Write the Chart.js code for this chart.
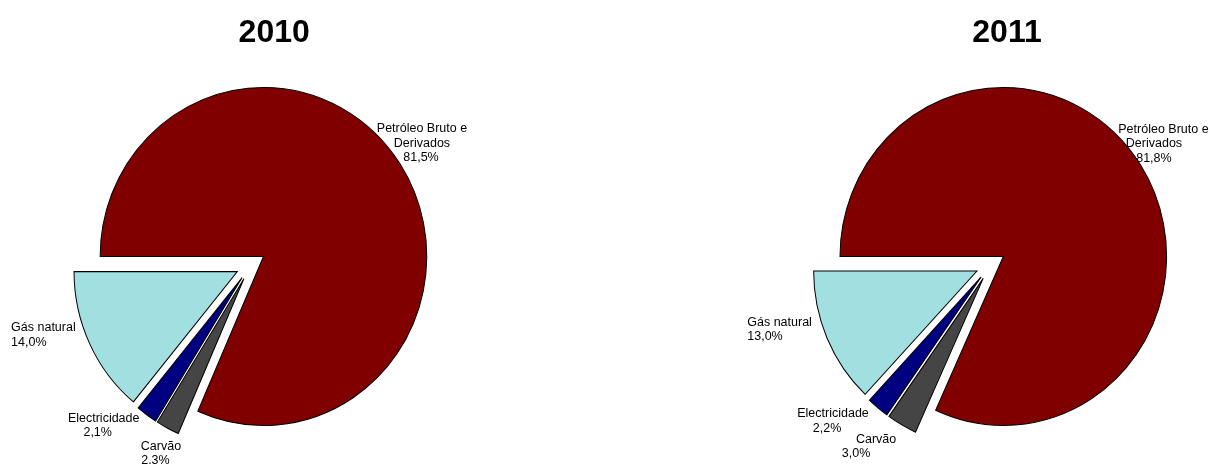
<!DOCTYPE html>
<html lang="pt">
<head>
<meta charset="utf-8">
<title>Consumo de energia final por fonte, 2010 e 2011</title>
<script src="https://cdn.jsdelivr.net/npm/chart.js@4.4.1/dist/chart.umd.min.js"></script>
<style>
  html, body { margin: 0; padding: 0; background: #ffffff; }
  #wrap { position: relative; width: 1210px; height: 464px; overflow: hidden; }
  .pie { position: absolute; top: 0; width: 605px; height: 464px; }
  .pie canvas { display: block; }
</style>
</head>
<body>
<div id="wrap">
  <div class="pie" style="left:0"><canvas id="c2010" width="605" height="464"></canvas></div>
  <div class="pie" style="left:605px"><canvas id="c2011" width="605" height="464"></canvas></div>
</div>
<script>
// ---- data ----
const categories = ['Petróleo Bruto e Derivados', 'Carvão', 'Electricidade', 'Gás natural'];
const labelLines = [['Petróleo Bruto e', 'Derivados'], ['Carvão'], ['Electricidade'], ['Gás natural']];
const years = ['2010', '2011'];
const shares2010 = [81.5, 2.3, 2.1, 14.0];
const shares2011 = [81.8, 3.0, 2.2, 13.0];

// ---- style ----
const sliceColors = ['#800000', '#454545', '#000080', '#A1DFE0'];
const PIE_RADIUS = 163.3;   // horizontal radius in px
const STRETCH_Y = 1.035;    // pie is drawn slightly taller than wide
const EXPLODE = 15;         // every slice is pulled out along its bisector
const LABEL_FONT = '12.5px "Liberation Sans", Arial, sans-serif';
const TITLE_FONT = 'bold 32px "Liberation Sans", Arial, sans-serif';
const LINE_HEIGHT = 14.5;

// label block placement relative to the outer midpoint of each slice
const labelPlacement2010 = [
  { dx: 21.8,  dy: -20.6, align: 'center', shift: [0, 0, -1] },
  { dx: -6.7,  dy: 25.6,  align: 'center', shift: [0, -5.5] },
  { dx: -43.0, dy: 10.8,  align: 'center', shift: [0, -6] },
  { dx: -46.2, dy: -8.6,  align: 'left',   shift: [0, 0] }
];
const labelPlacement2011 = [
  { dx: 13.3,  dy: -21.1, align: 'center', shift: [9.5, 0, 0] },
  { dx: -25.8, dy: 21.8,  align: 'center', shift: [0, -20] },
  { dx: -44.9, dy: 13.0,  align: 'center', shift: [0, -6] },
  { dx: -47.5, dy: -8.5,  align: 'left',   shift: [0, 0] }
];

function formatShare(v) {
  return v.toFixed(1).replace('.', ',') + '%';
}

// Pulls each slice out from the centre and stretches the pie vertically.
const pieShape = {
  id: 'pieShape',
  afterDatasetsUpdate(chart, args, opts) {
    chart.getDatasetMeta(0).data.forEach(arc => {
      const mid = (arc.startAngle + arc.endAngle) / 2;
      arc.x += Math.cos(mid) * opts.explode;
      arc.y += Math.sin(mid) * opts.explode;
    });
  },
  beforeDatasetsDraw(chart, args, opts) {
    const { ctx, chartArea: a } = chart;
    const cy = (a.top + a.bottom) / 2;
    ctx.save();
    ctx.translate(0, cy);
    ctx.scale(1, opts.stretchY);
    ctx.translate(0, -cy);
  },
  afterDatasetsDraw(chart) {
    chart.ctx.restore();
  }
};

// Category / percentage labels beside each slice, plus the year heading.
const sliceLabels = {
  id: 'sliceLabels',
  afterDraw(chart, args, opts) {
    const { ctx, chartArea: a } = chart;
    const cy = (a.top + a.bottom) / 2;
    const values = chart.data.datasets[0].data;
    ctx.save();
    ctx.fillStyle = '#000000';
    ctx.font = LABEL_FONT;
    ctx.textBaseline = 'middle';
    chart.getDatasetMeta(0).data.forEach((arc, i) => {
      const mid = (arc.startAngle + arc.endAngle) / 2;
      const r = arc.outerRadius;
      const ax = arc.x + Math.cos(mid) * r;
      const ay = cy + (arc.y + Math.sin(mid) * r - cy) * opts.stretchY;
      const place = opts.placement[i];
      const lines = labelLines[i].concat(formatShare(values[i]));
      const w = Math.max(...lines.map(t => ctx.measureText(t).width));
      const bx = ax + place.dx;
      const top = ay + place.dy - (lines.length - 1) * LINE_HEIGHT / 2;
      lines.forEach((t, k) => {
        const s = (place.shift && place.shift[k]) || 0;
        const y = top + k * LINE_HEIGHT;
        if (place.align === 'left') {
          ctx.textAlign = 'left';
          ctx.fillText(t, bx - w / 2 + s, y);
        } else {
          ctx.textAlign = 'center';
          ctx.fillText(t, bx + s, y);
        }
      });
    });
    ctx.font = TITLE_FONT;
    ctx.textAlign = 'center';
    ctx.textBaseline = 'alphabetic';
    ctx.fillText(opts.title, opts.titleX, opts.titleBaseline);
    ctx.restore();
  }
};

function makePie(canvasId, year, values, placement, padding, titleX) {
  return new Chart(document.getElementById(canvasId), {
    type: 'pie',
    data: {
      labels: categories,
      datasets: [{
        label: year,
        data: values,
        backgroundColor: sliceColors,
        borderColor: '#000000',
        borderWidth: 1,
        borderJoinStyle: 'miter',
        rotation: -90,
        radius: PIE_RADIUS
      }]
    },
    options: {
      responsive: false,
      animation: false,
      events: [],
      layout: { padding: padding },
      plugins: {
        legend: { display: false },
        tooltip: { enabled: false },
        title: { display: false },
        pieShape: { explode: EXPLODE, stretchY: STRETCH_Y },
        sliceLabels: {
          placement: placement,
          stretchY: STRETCH_Y,
          title: year,
          titleX: titleX,
          titleBaseline: 42
        }
      }
    },
    plugins: [pieShape, sliceLabels]
  });
}

makePie('c2010', years[0], shares2010, labelPlacement2010,
  { left: 0, right: 103.2, top: 66, bottom: 0 }, 274.2);
makePie('c2011', years[1], shares2011, labelPlacement2011,
  { left: 166.4, right: 0, top: 65.8, bottom: 0 }, 402);
</script>
</body>
</html>
